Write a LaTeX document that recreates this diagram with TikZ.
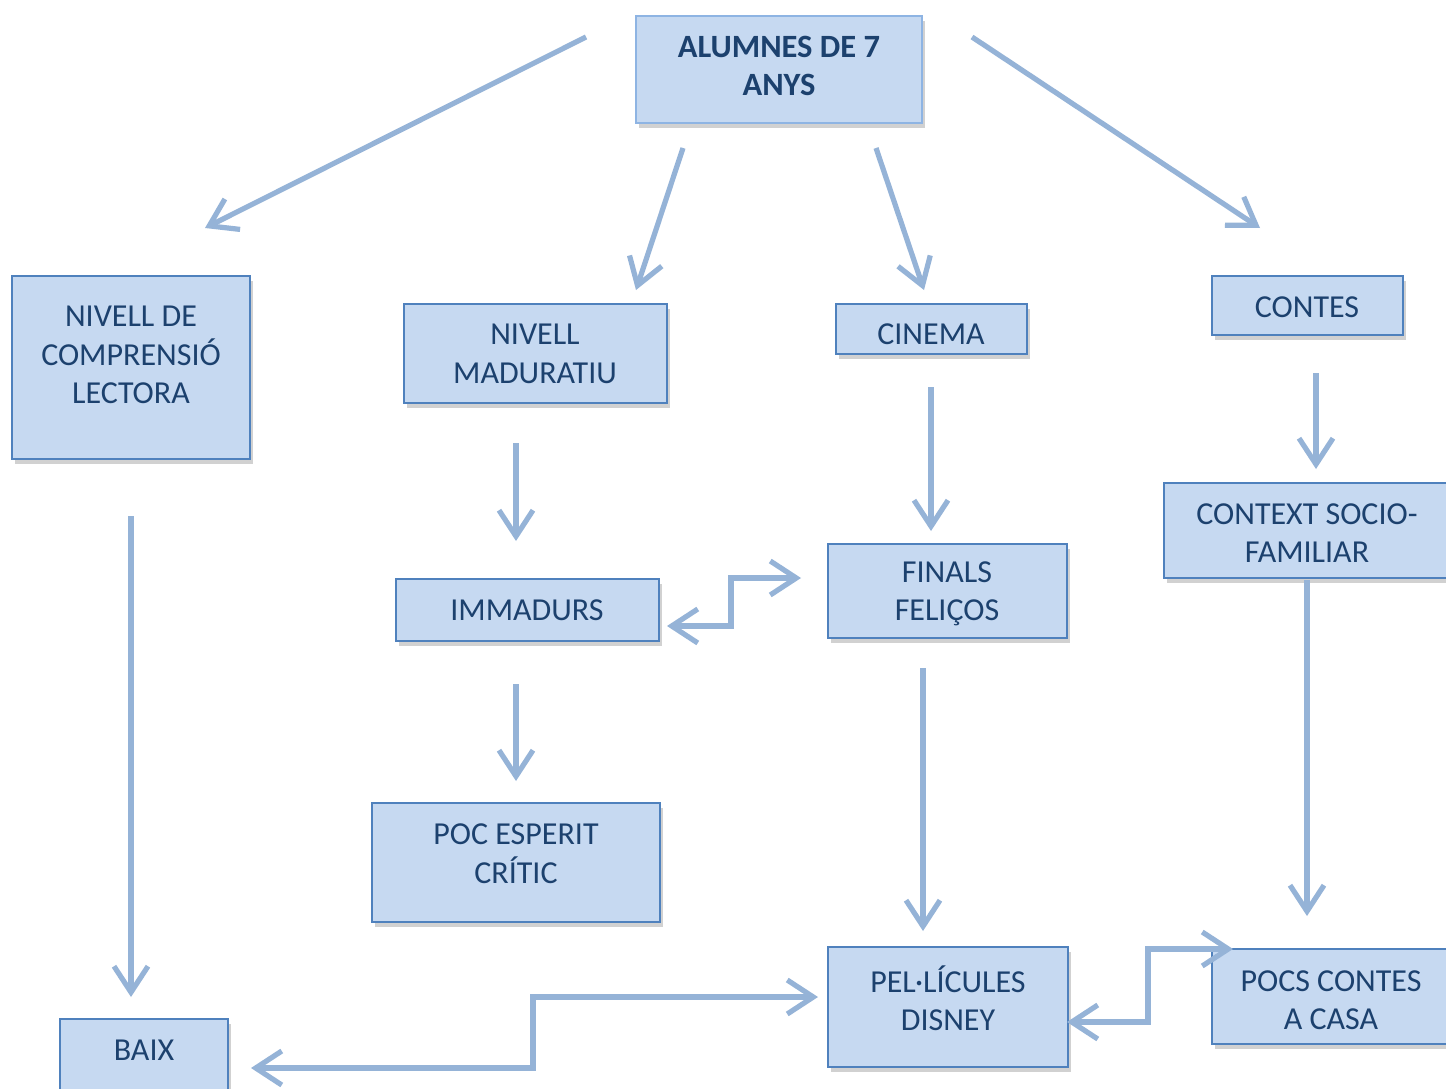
\documentclass[tikz,border=0pt]{standalone}
\usepackage{fontspec}
\setmainfont{Carlito}
\usetikzlibrary{arrows.meta,shadows}
\definecolor{boxfill}{HTML}{C6D9F1}
\definecolor{boxline}{HTML}{4F81BD}
\definecolor{topline}{HTML}{8EB4E3}
\definecolor{txtcol}{HTML}{1C416E}
\definecolor{arrcol}{HTML}{95B3D7}
\tikzset{
  box/.style={draw=boxline, line width=1.6pt, fill=boxfill, inner sep=0pt,
    drop shadow={shadow xshift=3pt, shadow yshift=-5pt, opacity=0.18, fill=black}},
  topbox/.style={box, draw=topline},
  txt/.style={text=txtcol, align=center, inner sep=0pt,
    font=\fontsize{32pt}{38.5pt}\selectfont},
  arr/.style={draw=arrcol, line width=5.2pt, line join=miter,
    -{Straight Barb[length=26pt,width=34pt]}},
  darr/.style={arr, {Straight Barb[length=26pt,width=34pt]}-{Straight Barb[length=26pt,width=34pt]}}
}
\begin{document}
\begin{tikzpicture}[x=1pt,y=-1pt]
\useasboundingbox (0,0) rectangle (1446,1089);
\clip (0,0) rectangle (1446,1089);
\fill[white] (0,0) rectangle (1446,1089);
% boxes
\node[topbox, minimum width=286, minimum height=107] (top) at (779,69.5) {};
\node[box, minimum width=238, minimum height=183] (ncl) at (131,367.5) {};
\node[box, minimum width=263, minimum height=99] (nm) at (535.5,353.5) {};
\node[box, minimum width=191, minimum height=50] (cin) at (931.5,329) {};
\node[box, minimum width=191, minimum height=59] (con) at (1307.5,305.5) {};
\node[box, minimum width=263, minimum height=62] (imm) at (527.5,610) {};
\node[box, minimum width=239, minimum height=94] (ff) at (947.5,591) {};
\node[box, minimum width=296, minimum height=95] (csf) at (1312,530.5) {};
\node[box, minimum width=288, minimum height=119] (pec) at (516,862.5) {};
\node[box, minimum width=240, minimum height=120] (pd) at (948,1007) {};
\node[box, minimum width=248, minimum height=95] (pcc) at (1336,996.5) {};
\node[box, minimum width=168, minimum height=91] (baix) at (144,1064.5) {};
% texts
\node[txt, font=\fontsize{32.5pt}{38pt}\selectfont\bfseries] (top-t) at (779,66) {ALUMNES DE 7\\ANYS};
\node[txt] (ncl-t) at (131,355) {NIVELL DE\\COMPRENSIÓ\\LECTORA};
\node[txt] (nm-t) at (535,354) {NIVELL\\MADURATIU};
\node[txt] (cin-t) at (931,334) {CINEMA};
\node[txt] (con-t) at (1307,307) {CONTES};
\node[txt] (imm-t) at (527,610) {IMMADURS};
\node[txt] (ff-t) at (947,594) {FINALS\\FELIÇOS};
\node[txt] (csf-t) at (1307,533) {CONTEXT SOCIO-\\FAMILIAR};
\node[txt] (pec-t) at (516,853.5) {POC ESPERIT\\CRÍTIC};
\node[txt] (pd-t) at (948,998) {PEL·LÍCULES\\DISNEY};
\node[txt] (pcc-t) at (1331,1000) {POCS CONTES\\A CASA};
\node[txt] (baix-t) at (144,1050) {BAIX};
% arrow end points
\coordinate (a1s) at (586,37);   \coordinate (a1e) at (205,228);
\coordinate (a2s) at (683,148);  \coordinate (a2e) at (636,290);
\coordinate (a3s) at (876,148);  \coordinate (a3e) at (924,290);
\coordinate (a4s) at (972,37);   \coordinate (a4e) at (1260,228);
\coordinate (a5s) at (1316,373); \coordinate (a5e) at (1316,469);
\coordinate (a6s) at (931,387);  \coordinate (a6e) at (931,531);
\coordinate (a7s) at (516,443);  \coordinate (a7e) at (516,541);
\coordinate (a8s) at (516,684);  \coordinate (a8e) at (516,781);
\coordinate (a9s) at (131,516);  \coordinate (a9e) at (131,997);
\coordinate (a10s) at (923,668); \coordinate (a10e) at (923,931);
\coordinate (a11s) at (1307,580);\coordinate (a11e) at (1307,916);
\coordinate (d1s) at (667,626);  \coordinate (d1e) at (801,578);
\coordinate (d2s) at (251,1068); \coordinate (d2e) at (818,997);
\coordinate (d3s) at (1067,1022);\coordinate (d3e) at (1233,949);
% arrows
\draw[arr] (a1s) -- (a1e);
\draw[arr] (a2s) -- (a2e);
\draw[arr] (a3s) -- (a3e);
\draw[arr] (a4s) -- (a4e);
\draw[arr] (a5s) -- (a5e);
\draw[arr] (a6s) -- (a6e);
\draw[arr] (a7s) -- (a7e);
\draw[arr] (a8s) -- (a8e);
\draw[arr] (a9s) -- (a9e);
\draw[arr] (a10s) -- (a10e);
\draw[arr] (a11s) -- (a11e);
\draw[darr] (d1s) -- (731,626) -- (731,578) -- (d1e);
\draw[darr] (d2s) -- (533,1068) -- (533,997) -- (d2e);
\draw[darr] (d3s) -- (1148,1022) -- (1148,949) -- (d3e);
\end{tikzpicture}
\end{document}
